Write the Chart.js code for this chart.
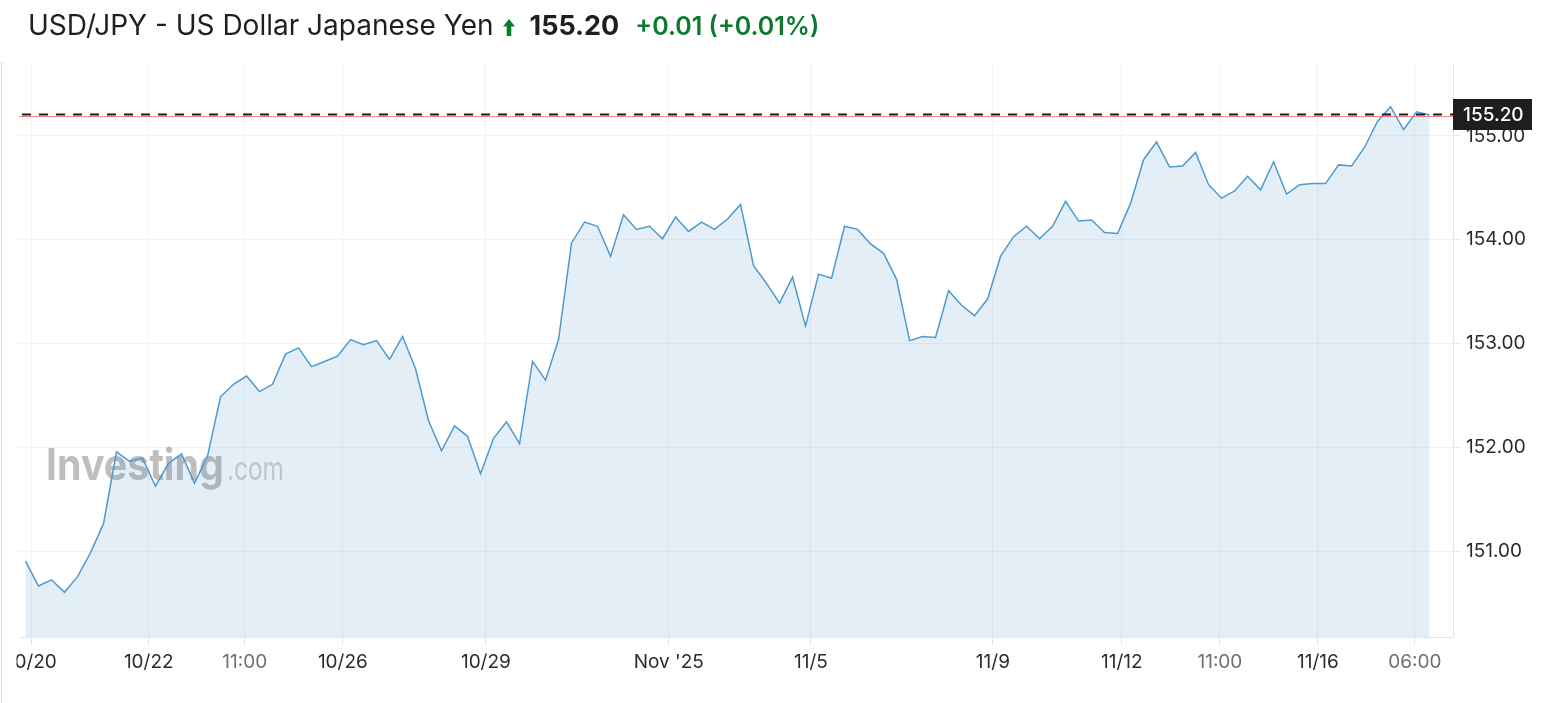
<!DOCTYPE html>
<html>
<head>
<meta charset="utf-8">
<script src="https://cdn.jsdelivr.net/npm/chart.js@4.4.1/dist/chart.umd.min.js"></script>
<style>
  html, body { margin: 0; padding: 0; background: #fff; }
  body { width: 1566px; height: 703px; position: relative; overflow: hidden; font-family: Inter, "Noto Sans", sans-serif; }
  #chart { position: absolute; left: 0; top: 0; }
  .frame { position: absolute; left: 1px; top: 62px; width: 1px; height: 641px; background: #d8d8d8; }
  .title { position: absolute; left: 28px; top: 8px; display: flex; align-items: baseline; white-space: nowrap; z-index: 2; }
  .title .name { font-size: 28px; color: #1f1f1f; }
  .title .arrow { display: inline-block; width: 12px; height: 17px; margin: 0 15px 0 9px; position: relative; top: 1px; }
  .title .last { font-size: 27px; font-weight: 700; color: #1f1f1f; }
  .title .chg { font-size: 25px; font-weight: 600; color: #0a7a2f; margin-left: 16px; }
</style>
</head>
<body>
<div class="title">
  <span class="name">USD/JPY - US Dollar Japanese Yen</span>
  <svg class="arrow" viewBox="0 0 12 17"><path d="M6 0 L12 7.5 L8.3 7.5 L8.3 17 L3.7 17 L3.7 7.5 L0 7.5 Z" fill="#0a7a2f"/></svg>
  <span class="last">155.20</span>
  <span class="chg">+0.01 (+0.01%)</span>
</div>
<div class="frame"></div>
<canvas id="chart" width="1566" height="703"></canvas>
<script>
// USD/JPY close prices, one point per bar
const rates = [
    150.91, 150.67, 150.73, 150.61, 150.76, 150.99, 151.27, 151.96, 151.87, 151.90,
    151.63, 151.85, 151.94, 151.66, 151.92, 152.49, 152.61, 152.69, 152.54, 152.61,
    152.90, 152.96, 152.78, 152.83, 152.88, 153.04, 152.99, 153.03, 152.85, 153.07,
    152.76, 152.26, 151.97, 152.21, 152.11, 151.75, 152.09, 152.25, 152.04, 152.83,
    152.65, 153.04, 153.97, 154.17, 154.13, 153.84, 154.24, 154.10, 154.13, 154.01,
    154.22, 154.08, 154.17, 154.10, 154.20, 154.34, 153.75, 153.58, 153.39, 153.64,
    153.17, 153.67, 153.63, 154.13, 154.10, 153.96, 153.87, 153.62, 153.03, 153.07,
    153.06, 153.51, 153.37, 153.27, 153.43, 153.84, 154.03, 154.13, 154.01, 154.13,
    154.37, 154.18, 154.19, 154.07, 154.06, 154.35, 154.77, 154.94, 154.70, 154.71,
    154.84, 154.53, 154.40, 154.47, 154.61, 154.48, 154.75, 154.44, 154.53, 154.54,
    154.54, 154.72, 154.71, 154.89, 155.14, 155.28, 155.06, 155.23, 155.20
];

// x tick positions (in bar index units) and their labels
const xTickValues = [0.48, 9.48, 16.87, 24.41, 35.41, 49.48, 60.41, 74.41, 84.33, 91.87, 99.41, 106.87];
const xTickLabels = ['10/20', '10/22', '11:00', '10/26', '10/29', "Nov '25", '11/5', '11/9', '11/12', '11:00', '11/16', '06:00'];

const yTickValues = [151, 152, 153, 154, 155];
const lastPrice = 155.20;

Chart.defaults.font.family = 'Inter, "Noto Sans", sans-serif';

// clip everything left of the plot edge, like the cut "0/20" label
const clipPlugin = {
    id: 'clipLeft',
    beforeDraw(chart) {
        const ctx = chart.ctx;
        ctx.save();
        ctx.beginPath();
        ctx.rect(16.5, 0, chart.width - 16.5, chart.height);
        ctx.clip();
    },
    afterDraw(chart) {
        chart.ctx.restore();
    }
};

const watermarkPlugin = {
    id: 'watermark',
    beforeDatasetsDraw(chart) {
        const ctx = chart.ctx;
        ctx.save();
        ctx.font = 'bold 44px Inter, sans-serif';
        let w = ctx.measureText('Investing').width;
        ctx.translate(46, 480);
        ctx.scale(178 / w, 1);
        ctx.fillStyle = 'rgba(110, 110, 110, 0.45)';
        ctx.fillText('Investing', 0, 0);
        ctx.restore();

        ctx.save();
        ctx.font = '33px Inter, sans-serif';
        w = ctx.measureText('.com').width;
        ctx.translate(227, 480);
        ctx.scale(57 / w, 1);
        ctx.fillStyle = 'rgba(110, 110, 110, 0.32)';
        ctx.fillText('.com', 0, 0);
        ctx.restore();
    }
};

const priceLinePlugin = {
    id: 'priceLine',
    afterDatasetsDraw(chart) {
        const ctx = chart.ctx;
        const area = chart.chartArea;
        const y = chart.scales.y.getPixelForValue(lastPrice);
        ctx.save();
        ctx.strokeStyle = 'rgba(238, 110, 110, 0.85)';
        ctx.lineWidth = 1;
        ctx.beginPath();
        ctx.moveTo(area.left, Math.round(y) + 1.5);
        ctx.lineTo(area.right, Math.round(y) + 1.5);
        ctx.stroke();

        ctx.strokeStyle = '#1c1c1c';
        ctx.lineWidth = 2;
        ctx.setLineDash([9, 8]);
        ctx.beginPath();
        ctx.moveTo(area.left + 3, Math.round(y) - 0.5);
        ctx.lineTo(area.right, Math.round(y) - 0.5);
        ctx.stroke();
        ctx.restore();
    },
    afterDraw(chart) {
        const ctx = chart.ctx;
        const area = chart.chartArea;
        const y = chart.scales.y.getPixelForValue(lastPrice);
        ctx.save();
        ctx.fillStyle = '#1e1e1e';
        ctx.fillRect(area.right, y - 16, 79, 31);
        ctx.fillStyle = '#ffffff';
        ctx.font = '500 19px Inter, sans-serif';
        ctx.textAlign = 'left';
        ctx.textBaseline = 'middle';
        ctx.fillText(lastPrice.toFixed(2), area.right + 10, y);
        ctx.restore();
    }
};

const ctx = document.getElementById('chart').getContext('2d');
new Chart(ctx, {
    type: 'line',
    data: {
        datasets: [{
            data: rates.map((v, i) => ({ x: i, y: v })),
            borderColor: '#4d9ad0',
            borderWidth: 1.5,
            backgroundColor: 'rgba(70, 140, 200, 0.15)',
            fill: 'start',
            pointRadius: 0,
            tension: 0
        }]
    },
    options: {
        responsive: false,
        animation: false,
        layout: {
            padding: { left: 19, top: 63, right: 0, bottom: 0 }
        },
        plugins: {
            legend: { display: false },
            tooltip: { enabled: false }
        },
        scales: {
            x: {
                type: 'linear',
                min: -0.5,
                max: 109.8,
                afterBuildTicks: function(scale) {
                    scale.ticks = xTickValues.map(v => ({ value: v }));
                },
                afterFit: function(scale) {
                    scale.height = 66;
                    scale.paddingLeft = 0;
                    scale.paddingRight = 0;
                },
                ticks: {
                    autoSkip: false,
                    maxRotation: 0,
                    padding: 6,
                    font: { size: 19 },
                    color: function(context) {
                        const label = xTickLabels[context.index] || '';
                        return label.indexOf(':') >= 0 ? '#707070' : '#2b2b2b';
                    },
                    callback: function(value, index) {
                        return xTickLabels[index];
                    }
                },
                grid: {
                    color: '#f2f3f5',
                    tickLength: 8,
                    tickColor: '#e2e5ea'
                },
                border: { color: '#e2e5ea' }
            },
            y: {
                position: 'right',
                min: 150.18,
                max: 155.70,
                afterBuildTicks: function(scale) {
                    scale.ticks = yTickValues.map(v => ({ value: v }));
                },
                afterFit: function(scale) {
                    scale.width = 113;
                    scale.paddingTop = 0;
                    scale.paddingBottom = 0;
                },
                ticks: {
                    padding: 6,
                    font: { size: 19 },
                    color: '#2b2b2b',
                    callback: function(value) {
                        return Number(value).toFixed(2);
                    }
                },
                grid: {
                    color: '#f2f3f5',
                    tickLength: 7,
                    tickColor: '#e2e5ea'
                },
                border: { color: '#e2e5ea' }
            }
        }
    },
    plugins: [clipPlugin, watermarkPlugin, priceLinePlugin]
});
</script>
</body>
</html>
